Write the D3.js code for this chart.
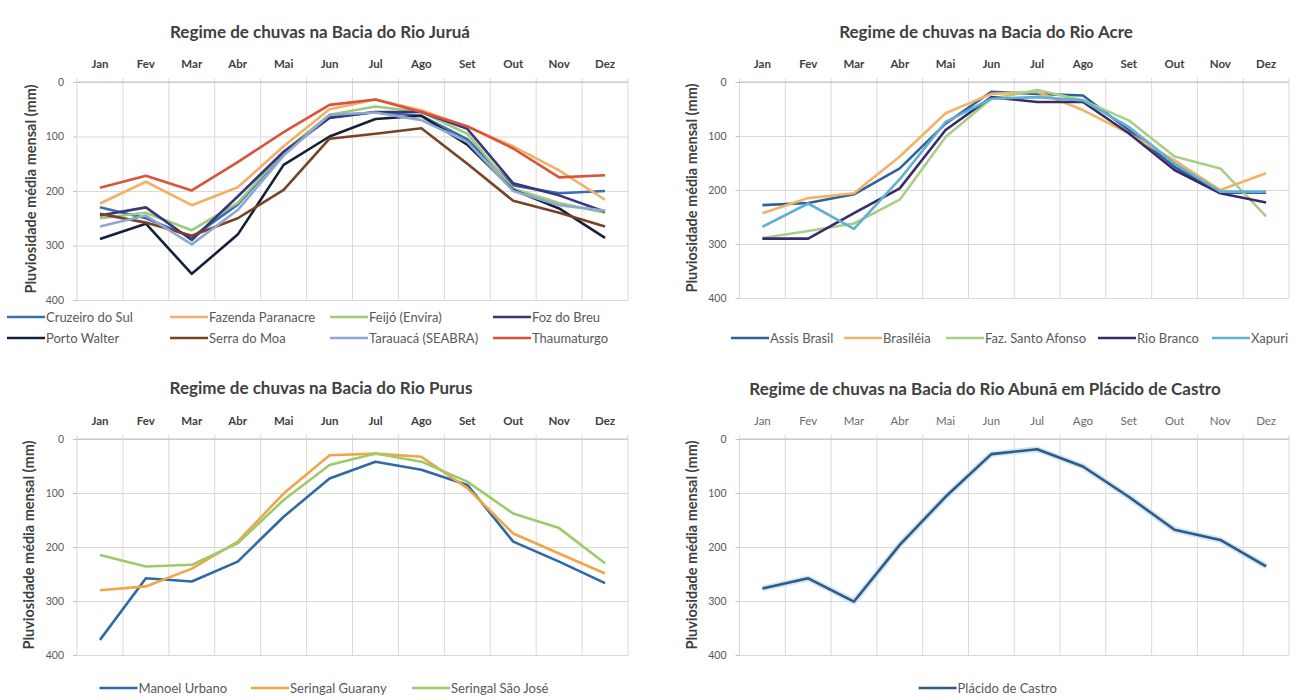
<!DOCTYPE html>
<html>
<head>
<meta charset="utf-8">
<script src="https://cdn.jsdelivr.net/npm/d3@7"></script>
<style>
  html, body { margin: 0; padding: 0; background: #ffffff; }
  svg { display: block; font-family: Lato, "Open Sans", sans-serif; }
</style>
</head>
<body>
<svg id="chart" width="1303" height="700"></svg>
<script>
// ---------------- DATA ----------------
const months = ["Jan","Fev","Mar","Abr","Mai","Jun","Jul","Ago","Set","Out","Nov","Dez"];
const yTicks = [0, 100, 200, 300, 400];
const yTitle = "Pluviosidade média mensal (mm)";

const juruaTitle = "Regime de chuvas na Bacia do Rio Juruá";
const juruaStations = ["Cruzeiro do Sul","Fazenda Paranacre","Feijó (Envira)","Foz do Breu",
                       "Porto Walter","Serra do Moa","Tarauacá (SEABRA)","Thaumaturgo"];
const cruzeiroDoSul    = [230, 250, 285, 225, 130, 65, 55, 62, 105, 190, 204, 200];
const fazendaParanacre = [223, 183, 226, 193, 118, 50, 32, 52, 82, 118, 162, 216];
const feijoEnvira      = [250, 240, 272, 222, 128, 60, 45, 55, 95, 196, 222, 240];
const fozDoBreu        = [245, 230, 290, 210, 128, 66, 55, 55, 86, 186, 208, 238];
const portoWalter      = [288, 260, 352, 280, 152, 100, 68, 62, 115, 198, 232, 286];
const serraDoMoa       = [242, 258, 282, 250, 198, 104, 95, 85, 150, 218, 240, 265];
const tarauaca         = [265, 245, 298, 235, 135, 60, 56, 70, 110, 200, 226, 236];
const thaumaturgo      = [194, 172, 199, 147, 92, 42, 32, 55, 81, 122, 175, 171];
const juruaValues = [cruzeiroDoSul, fazendaParanacre, feijoEnvira, fozDoBreu,
                     portoWalter, serraDoMoa, tarauaca, thaumaturgo];

const acreTitle = "Regime de chuvas na Bacia do Rio Acre";
const acreStations = ["Assis Brasil","Brasiléia","Faz. Santo Afonso","Rio Branco","Xapuri"];
const assisBrasil     = [228, 224, 208, 160, 77, 18, 22, 25, 89, 157, 205, 205];
const brasileia       = [243, 215, 206, 138, 58, 22, 18, 52, 95, 145, 200, 169];
const fazSantoAfonso  = [289, 276, 262, 218, 102, 31, 15, 34, 71, 138, 160, 249];
const rioBranco       = [290, 290, 243, 197, 89, 28, 37, 37, 95, 163, 206, 223];
const xapuri          = [268, 225, 272, 180, 74, 31, 28, 34, 83, 151, 203, 203];
const acreValues = [assisBrasil, brasileia, fazSantoAfonso, rioBranco, xapuri];

const purusTitle = "Regime de chuvas na Bacia do Rio Purus";
const purusStations = ["Manoel Urbano","Seringal Guarany","Seringal São José"];
const manoelUrbano     = [372, 258, 264, 227, 144, 73, 42, 57, 85, 190, 227, 267];
const seringalGuarany  = [280, 273, 240, 190, 101, 30, 27, 33, 91, 175, 212, 249];
const seringalSaoJose  = [215, 236, 233, 193, 113, 48, 27, 42, 79, 138, 165, 230];
const purusValues = [manoelUrbano, seringalGuarany, seringalSaoJose];

const abunaTitle = "Regime de chuvas na Bacia do Rio Abunã em Plácido de Castro";
const abunaStations = ["Plácido de Castro"];
const placidoDeCastro  = [277, 258, 301, 196, 107, 28, 19, 51, 107, 168, 187, 236];
const abunaValues = [placidoDeCastro];

// ---------------- STYLE / LAYOUT ----------------
const juruaColors = ["#3a6fae","#f2b063","#9ccb7a","#3b3580","#17203a","#7a4225","#8ea8d2","#d9533b"];
const acreColors  = ["#2f6298","#f3b366","#a8cf8a","#3a2a6a","#5fb1d4"];
const purusColors = ["#2f6aa8","#f0a648","#9fca6a"];
const abunaColors = ["#2e5a88"];

const panels = [
  { title: juruaTitle, stations: juruaStations, values: juruaValues, colors: juruaColors,
    left: 77, right: 628, top: 82, bottom: 300, titleX: 320, titleY: 38, yTitleX: 31,
    boldMonths: true,
    legendY: [317, 338], legendX: [7, 170, 330, 493], legendCols: 4 },
  { title: acreTitle, stations: acreStations, values: acreValues, colors: acreColors,
    left: 739.5, right: 1289, top: 82, bottom: 298, titleX: 986, titleY: 38, yTitleX: 692,
    boldMonths: true,
    legendY: [338], legendX: [731, 844, 946, 1098, 1212], legendCols: 5 },
  { title: purusTitle, stations: purusStations, values: purusValues, colors: purusColors,
    left: 77, right: 628, top: 439, bottom: 655, titleX: 321, titleY: 394, yTitleX: 29,
    boldMonths: true,
    legendY: [688], legendX: [99.5, 251, 412], legendCols: 3 },
  { title: abunaTitle, stations: abunaStations, values: abunaValues, colors: abunaColors,
    left: 739.5, right: 1289, top: 439, bottom: 655, titleX: 985, titleY: 395, yTitleX: 692,
    boldMonths: false, halo: true,
    legendY: [688], legendX: [918.6], legendCols: 1 }
];

const svg = d3.select("#chart");

panels.forEach(p => {
  const g = svg.append("g");
  const x = d3.scaleBand().domain(months).range([p.left, p.right]);
  const y = d3.scaleLinear().domain([0, 400]).range([p.top, p.bottom]);
  const cx = m => x(m) + x.bandwidth() / 2;

  // horizontal gridlines
  g.append("g")
    .attr("transform", `translate(${p.left},0)`)
    .call(d3.axisLeft(y).tickValues(yTicks).tickSize(-(p.right - p.left)).tickFormat(""))
    .call(a => a.select(".domain").remove())
    .call(a => a.selectAll("line").attr("stroke", "#d9d9d9").attr("stroke-width", 1));

  // vertical gridlines at category boundaries
  const bounds = months.map(m => x(m)).concat([p.right]);
  g.append("g").selectAll("line").data(bounds).join("line")
    .attr("x1", d => d).attr("x2", d => d)
    .attr("y1", p.top - 4).attr("y2", p.bottom)
    .attr("stroke", "#d9d9d9").attr("stroke-width", 1);

  // top axis line (0)
  g.append("line")
    .attr("x1", p.left).attr("x2", p.right).attr("y1", p.top).attr("y2", p.top)
    .attr("stroke", "#bfbfbf").attr("stroke-width", 1.2);

  // month labels
  g.append("g")
    .attr("transform", `translate(0,${p.top})`)
    .call(d3.axisTop(x).tickSize(0).tickPadding(14))
    .call(a => a.select(".domain").remove())
    .call(a => a.selectAll("text")
      .attr("font-family", "Lato, sans-serif")
      .attr("font-size", 11.5)
      .attr("font-weight", p.boldMonths ? "bold" : "normal")
      .attr("fill", p.boldMonths ? "#404040" : "#6b6b6b"));

  // y axis ticks + labels
  g.append("g")
    .attr("transform", `translate(${p.left},0)`)
    .call(d3.axisLeft(y).tickValues(yTicks).tickSize(4).tickPadding(9))
    .call(a => a.select(".domain").remove())
    .call(a => a.selectAll("line").attr("stroke", "#bfbfbf"))
    .call(a => a.selectAll("text")
      .attr("font-family", "Lato, sans-serif")
      .attr("font-size", 10.5)
      .attr("fill", "#595959"));

  // title
  g.append("text")
    .attr("x", p.titleX).attr("y", p.titleY)
    .attr("text-anchor", "middle")
    .attr("font-size", 17).attr("font-weight", "bold")
    .attr("fill", "#404040")
    .text(p.title);

  // y title
  const yc = (p.top + p.bottom) / 2 - 2;
  g.append("text")
    .attr("transform", `translate(${p.yTitleX},${yc}) rotate(-90)`)
    .attr("text-anchor", "middle").attr("dy", "0.35em")
    .attr("font-size", 14.5).attr("font-weight", "bold")
    .attr("fill", "#404040")
    .text(yTitle);

  // lines
  const line = d3.line().x((d, i) => cx(months[i])).y(d => y(d));
  p.values.forEach((vals, si) => {
    if (p.halo) {
      g.append("path").datum(vals).attr("d", line)
        .attr("fill", "none").attr("stroke", "#c6def3").attr("stroke-width", 6)
        .attr("stroke-linejoin", "round").attr("opacity", 0.8);
    }
    g.append("path").datum(vals).attr("d", line)
      .attr("fill", "none").attr("stroke", p.colors[si]).attr("stroke-width", 2.6)
      .attr("stroke-linejoin", "round");
  });

  // legend
  p.stations.forEach((name, si) => {
    const col = si % p.legendCols;
    const row = Math.floor(si / p.legendCols);
    const lx = p.legendX[col], ly = p.legendY[row];
    const lg = g.append("g");
    lg.append("line").attr("x1", lx).attr("x2", lx + 38).attr("y1", ly).attr("y2", ly)
      .attr("stroke", p.colors[si]).attr("stroke-width", 2.6);
    lg.append("text").attr("x", lx + 39).attr("y", ly).attr("dy", "0.35em")
      .attr("font-size", 13).attr("fill", "#595959").text(name);
  });
});
</script>
</body>
</html>
